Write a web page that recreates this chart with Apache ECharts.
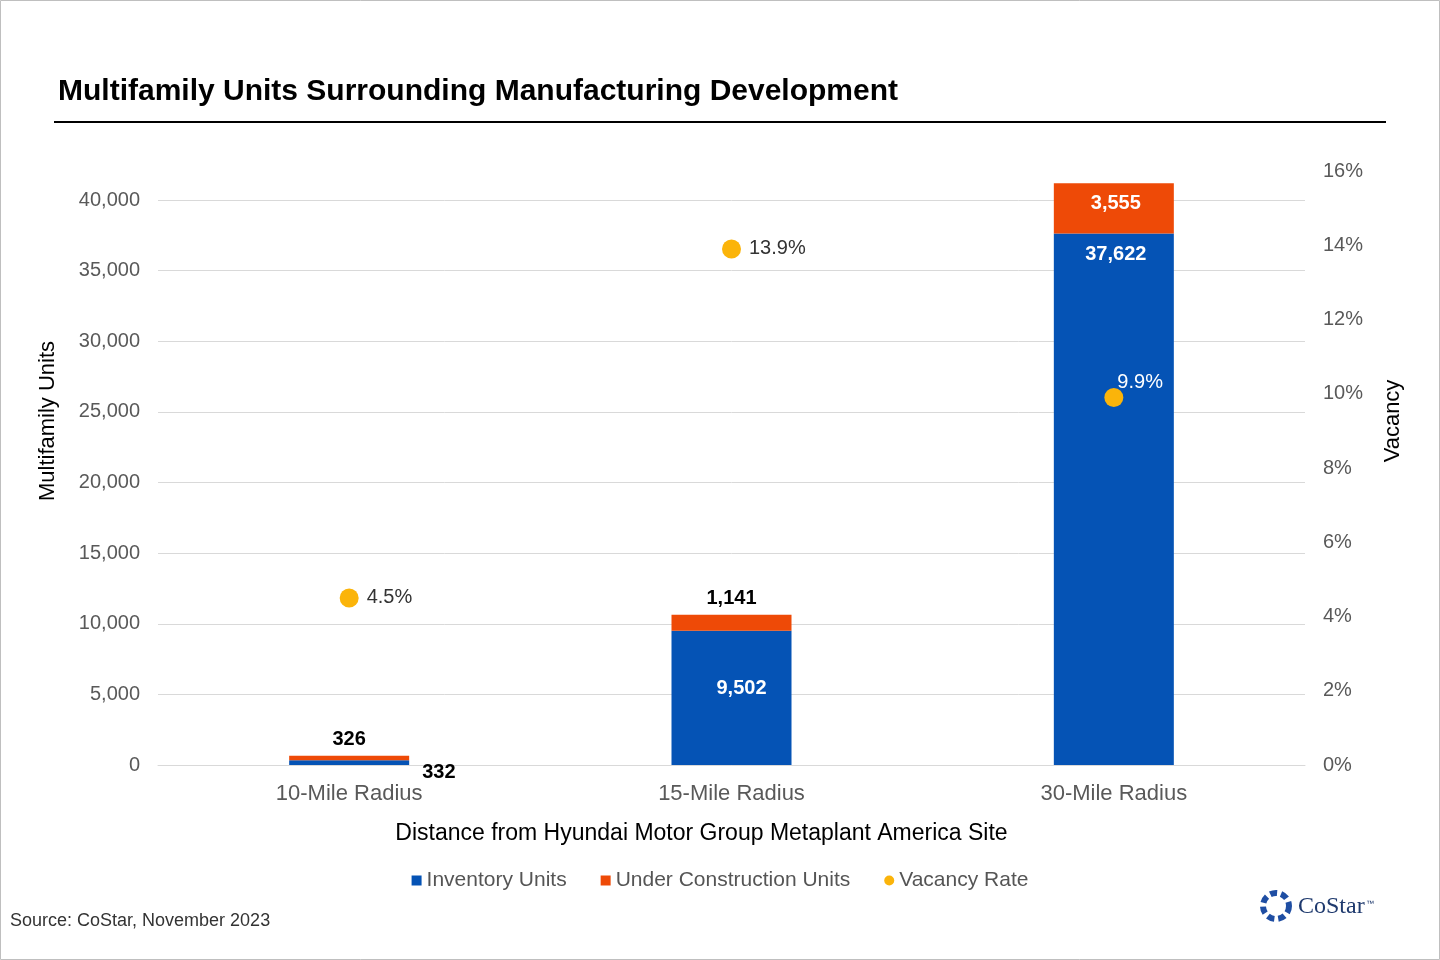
<!DOCTYPE html>
<html><head><meta charset="utf-8">
<script src="https://cdn.jsdelivr.net/npm/echarts@6/dist/echarts.min.js"></script>
<style>html,body{margin:0;padding:0;background:#fff}#c{width:1440px;height:960px}</style>
</head><body><div id="c"></div>
<script>
const categories = ['10-Mile Radius','15-Mile Radius','30-Mile Radius'];
const inventoryUnits = [332, 9502, 37622];
const underConstruction = [326, 1141, 3555];
const vacancyRate = [4.5, 13.9, 9.9];
const leftTicks = [0,5000,10000,15000,20000,25000,30000,35000,40000];

const F = 'Liberation Sans, Arial, sans-serif';
const chart = echarts.init(document.getElementById('c'));
const fmt = v => v.toLocaleString('en-US');
chart.setOption({
  textStyle:{fontFamily:F},
  animation:false,
  grid:{left:158,right:135,top:171,bottom:195},
  title:{text:'Multifamily Units Surrounding Manufacturing Development',left:53,top:72,
    textStyle:{fontFamily:F,fontSize:30,fontWeight:'bold',color:'#000'}},
  graphic:[
    {type:'rect',shape:{x:0.5,y:0.5,width:1439,height:959},style:{fill:'none',stroke:'#bfbfbf',lineWidth:1}},
    {type:'line',shape:{x1:54,y1:122,x2:1386,y2:122},style:{stroke:'#000',lineWidth:2}},
    {type:'text',x:48,y:421,rotation:Math.PI/2,style:{text:'Multifamily Units',font:'22px '+F,fill:'#000',align:'center',verticalAlign:'middle'}},
    {type:'text',x:1393,y:421,rotation:Math.PI/2,style:{text:'Vacancy',font:'22px '+F,fill:'#000',align:'center',verticalAlign:'middle'}},
    {type:'text',left:10,top:912,style:{text:'Source: CoStar, November 2023',font:'18px '+F,fill:'#333'}},
    {type:'text',left:1298,top:895,style:{text:'CoStar',font:'24px Liberation Serif, serif',fill:'#1f3a6e'}},
    {type:'text',left:1366,top:900,style:{text:'™',font:'8px '+F,fill:'#1f3a6e'}},
    {type:'circle',shape:{cx:1276,cy:906,r:13},style:{fill:'none',stroke:'#1f4ea3',lineWidth:6,lineDash:[7,4]}}
  ],
  legend:{bottom:64,left:'center',itemWidth:10,itemHeight:10,itemGap:34,
    textStyle:{fontSize:21,color:'#555',fontFamily:F},
    data:[{name:'Inventory Units',icon:'rect'},{name:'Under Construction Units',icon:'rect'},{name:'Vacancy Rate',icon:'circle'}]},
  xAxis:{type:'category',data:categories,
    axisLine:{lineStyle:{color:'#d9d9d9'}},axisTick:{show:false},
    axisLabel:{fontSize:22,color:'#595959',margin:18},
    name:'Distance from Hyundai Motor Group Metaplant America Site',nameLocation:'middle',nameGap:57,
    nameTextStyle:{fontSize:23,color:'#000',padding:[0,60,0,0]}},
  yAxis:[
    {type:'value',min:0,max:594/565*40000,interval:5000,
     axisLabel:{fontSize:20,color:'#595959',margin:18,showMaxLabel:false,
       formatter:v=>leftTicks.includes(v)?fmt(v):''},
     splitLine:{lineStyle:{color:'#d9d9d9'},showMaxLine:false},
     axisLine:{show:false},axisTick:{show:false}},
    {type:'value',min:0,max:16,interval:2,
     axisLabel:{fontSize:20,color:'#595959',margin:18,formatter:'{value}%'},
     splitLine:{show:false},axisLine:{show:false},axisTick:{show:false}}
  ],
  series:[
    {name:'Inventory Units',type:'bar',stack:'a',barWidth:120,itemStyle:{color:'#0553B5'},
     data:inventoryUnits.map((v,i)=>({value:v,label:i===0?
       {show:true,position:'insideBottomLeft',offset:[128,22],color:'#000',fontWeight:'bold',fontSize:20,formatter:p=>fmt(p.value)}:
       {show:true,position:i===1?'inside':'insideTop',offset:i===2?[2,6]:[10,-9],color:'#fff',fontWeight:'bold',fontSize:20,formatter:p=>fmt(p.value)}}))},
    {name:'Under Construction Units',type:'bar',stack:'a',barWidth:120,itemStyle:{color:'#EE4A07'},
     data:underConstruction.map((v,i)=>({value:v,label:i===2?
       {show:true,position:'inside',offset:[2,-5],color:'#fff',fontWeight:'bold',fontSize:20,formatter:p=>fmt(p.value)}:
       {show:true,position:'top',distance:6,color:'#000',fontWeight:'bold',fontSize:20,formatter:p=>fmt(p.value)}}))},
    {name:'Vacancy Rate',type:'scatter',yAxisIndex:1,symbolSize:19,z:10,itemStyle:{color:'#FBB40A',opacity:1},
     data:vacancyRate.map((v,i)=>({value:v,label:{show:true,position:i===2?[13,-15]:'right',distance:8,
       color:i===2?'#fff':'#333',fontSize:20,formatter:p=>p.value.toFixed(1)+'%'}}))}
  ]
});
</script></body></html>
